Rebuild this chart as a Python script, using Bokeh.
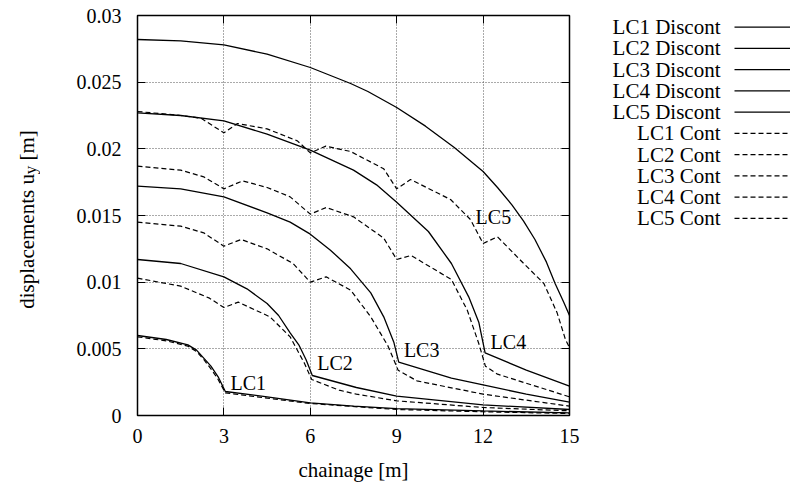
import math
from bokeh.plotting import figure
from bokeh.models import Range1d, LinearAxis, FixedTicker, CustomLabelingPolicy
from bokeh.layouts import row
from bokeh.core.properties import value
from bokeh.embed import file_html
from bokeh.resources import INLINE

FONT = "Liberation Serif"
FS = "20px"
FS_BIG = "21px"

# ---------------- data ----------------
x_ticks = [0, 3, 6, 9, 12, 15]
x_tick_labels = ["0", "3", "6", "9", "12", "15"]
y_ticks = [0, 0.005, 0.01, 0.015, 0.02, 0.025, 0.03]
y_tick_labels = ["0", "0.005", "0.01", "0.015", "0.02", "0.025", "0.03"]
x_title = "chainage [m]"
y_title_parts = ["displacements u", "y", "[m]"]

lc1_dis_x = [0, 1.0, 1.75, 2.05, 2.3, 2.55, 2.8, 3.05, 4.5, 6, 7.5, 9, 12, 15]
lc1_dis_y = [0.0060, 0.0057, 0.0053, 0.0049, 0.0043, 0.0037, 0.0029, 0.0018, 0.0014, 0.00095, 0.0007, 0.00052, 0.00034, 0.0002]

lc2_dis_x = [0, 1.5, 3, 3.8, 4.5, 4.9, 5.3, 5.6, 5.85, 6.07, 7.6, 9, 12, 15]
lc2_dis_y = [0.0117, 0.0114, 0.0104, 0.0095, 0.0084, 0.0075, 0.0062, 0.0053, 0.0042, 0.0030, 0.0021, 0.00145, 0.0008, 0.00045]

lc3_dis_x = [0, 1.5, 3, 4.5, 5.3, 6, 6.7, 7.4, 8.1, 8.55, 8.9, 9.07, 10.9, 12, 13.5, 15]
lc3_dis_y = [0.0172, 0.0170, 0.0164, 0.0152, 0.0145, 0.0136, 0.0124, 0.0110, 0.0092, 0.0074, 0.0055, 0.0040, 0.0028, 0.0023, 0.0016, 0.0010]

lc4_dis_x = [0, 1.5, 3, 4.5, 6, 7.5, 8.3, 9, 10.1, 10.9, 11.5, 11.85, 12.07, 13.5, 15]
lc4_dis_y = [0.0227, 0.0225, 0.0221, 0.0211, 0.0199, 0.0184, 0.0173, 0.0160, 0.0138, 0.0114, 0.0089, 0.0070, 0.0047, 0.0034, 0.0022]

lc5_dis_x = [0, 1.5, 3, 4.5, 6, 7.4, 8, 9, 10, 11, 12, 12.5, 13, 13.4, 13.8, 14.2, 14.5, 14.8, 15]
lc5_dis_y = [0.0282, 0.0281, 0.0278, 0.0271, 0.0261, 0.0249, 0.0243, 0.0231, 0.0217, 0.0201, 0.0183, 0.0171, 0.0158, 0.0146, 0.0132, 0.0115, 0.0099, 0.0085, 0.0075]

lc1_con_x = [0, 1.0, 1.75, 2.05, 2.3, 2.55, 2.8, 3.05, 4.5, 6, 9, 12, 15]
lc1_con_y = [0.0059, 0.0056, 0.0052, 0.0048, 0.0042, 0.0035, 0.0027, 0.0017, 0.0013, 0.0009, 0.00045, 0.00028, 0.00015]

lc2_con_x = [0, 1.5, 2.5, 3, 3.5, 4.6, 5.3, 5.8, 6.05, 7.0, 7.6, 9, 12, 15]
lc2_con_y = [0.0103, 0.0097, 0.0088, 0.0081, 0.0085, 0.0074, 0.0059, 0.0039, 0.0027, 0.0019, 0.0016, 0.0011, 0.0006, 0.00035]

lc3_con_x = [0, 1.5, 2.3, 3, 3.6, 4.5, 5.4, 6, 6.55, 7.4, 8.1, 8.7, 9.05, 9.7, 12, 15]
lc3_con_y = [0.0145, 0.0142, 0.0137, 0.0127, 0.0132, 0.0125, 0.0114, 0.0100, 0.0104, 0.0094, 0.0074, 0.0052, 0.0034, 0.0026, 0.0016, 0.0007]

lc4_con_x = [0, 1.5, 2.3, 3, 3.65, 4.5, 5.3, 6, 6.55, 7.5, 8.55, 9, 9.5, 10.9, 11.45, 11.85, 12.08, 12.5, 15]
lc4_con_y = [0.0187, 0.0184, 0.0179, 0.0170, 0.0176, 0.0171, 0.0164, 0.0151, 0.0156, 0.0149, 0.0133, 0.0117, 0.0120, 0.0102, 0.0079, 0.0054, 0.0037, 0.0031, 0.0014]

lc5_con_x = [0, 1.5, 2.2, 3, 3.47, 4.5, 5.55, 6, 6.54, 7.4, 8.55, 9, 9.48, 10.87, 11.56, 12, 12.5, 13.41, 14.11, 14.57, 14.86, 15]
lc5_con_y = [0.0228, 0.0225, 0.0223, 0.0212, 0.0219, 0.0215, 0.0206, 0.0197, 0.0202, 0.0198, 0.0185, 0.0170, 0.0177, 0.0162, 0.0147, 0.0129, 0.0134, 0.0114, 0.0099, 0.0077, 0.0057, 0.0051]

series_names = ["LC1 Discont", "LC2 Discont", "LC3 Discont", "LC4 Discont", "LC5 Discont",
                "LC1 Cont", "LC2 Cont", "LC3 Cont", "LC4 Cont", "LC5 Cont"]
series_x = [lc1_dis_x, lc2_dis_x, lc3_dis_x, lc4_dis_x, lc5_dis_x,
            lc1_con_x, lc2_con_x, lc3_con_x, lc4_con_x, lc5_con_x]
series_y = [lc1_dis_y, lc2_dis_y, lc3_dis_y, lc4_dis_y, lc5_dis_y,
            lc1_con_y, lc2_con_y, lc3_con_y, lc4_con_y, lc5_con_y]
series_dashed = [False] * 5 + [True] * 5

curve_label_text = ["LC1", "LC2", "LC3", "LC4", "LC5"]
curve_label_x = [3.23, 6.24, 9.25, 12.26, 11.74]
curve_label_y = [0.00243, 0.00396, 0.00494, 0.00553, 0.01492]

# ---------------- layout constants ----------------
H = 484
YL_W = 40          # y-title strip
FRAME_L, FRAME_R, FRAME_T, FRAME_B = 137, 569, 15, 416
MAIN_W = FRAME_R - YL_W + 14
LEG_W = 790 - YL_W - MAIN_W


def blank_panel(w):
    # row() aligns the frames of its plots, so the panel frame spans FRAME_T..FRAME_B;
    # a pixel-like range keeps positions in screen pixels
    f = figure(width=w, height=H, x_range=Range1d(0, w), y_range=Range1d(FRAME_B, FRAME_T),
               title=None, output_backend="svg", toolbar_location=None,
               x_axis_location=None, y_axis_location=None, min_border=0,
               background_fill_color="white", border_fill_color="white")
    f.outline_line_color = None
    f.xgrid.visible = False
    f.ygrid.visible = False
    return f


# ---------------- y title strip ----------------
yl = blank_panel(YL_W)
base_x, start_y = 26, 309
main_len = 6.416 * 21
yl.text(x=[base_x], y=[start_y], text=[y_title_parts[0]], angle=math.pi / 2,
        text_font=value(FONT), text_font_size=value(FS_BIG), text_color="black",
        text_align="left", text_baseline="alphabetic")
yl.text(x=[base_x + 4], y=[start_y - main_len], text=[y_title_parts[1]], angle=math.pi / 2,
        text_font=value(FONT), text_font_size=value("17px"), text_color="black",
        text_align="left", text_baseline="alphabetic")
yl.text(x=[base_x], y=[start_y - main_len - 8.5 - 5.3], text=[y_title_parts[2]], angle=math.pi / 2,
        text_font=value(FONT), text_font_size=value(FS_BIG), text_color="black",
        text_align="left", text_baseline="alphabetic")

# ---------------- main plot ----------------
p = figure(width=MAIN_W, height=H, x_range=Range1d(0, 15), y_range=Range1d(0, 0.03),
           title=None, output_backend="svg", toolbar_location=None,
           min_border_left=FRAME_L - YL_W, min_border_right=14,
           min_border_top=FRAME_T, min_border_bottom=H - FRAME_B,
           background_fill_color="white", border_fill_color="white")
p.outline_line_color = "black"
p.outline_line_width = 1.5

p.add_layout(LinearAxis(), "above")
p.add_layout(LinearAxis(), "right")

hide_all = CustomLabelingPolicy(code="for (const i of indices) { indices.unset(i) }\nreturn indices")


def style_axis(ax, ticks, labels, show):
    ax.ticker = FixedTicker(ticks=ticks)
    ax.major_tick_in = 8
    ax.major_tick_out = 0
    ax.minor_tick_line_color = None
    ax.axis_line_color = "black"
    ax.major_tick_line_color = "black"
    ax.major_tick_line_width = 1
    if show:
        ax.major_label_overrides = dict(zip(ticks, labels))
        ax.major_label_text_font = FONT
        ax.major_label_text_font_size = FS
        ax.major_label_text_color = "black"
    else:
        ax.major_label_text_font_size = "0px"
        ax.major_label_standoff = 0
        ax.major_label_policy = hide_all


for ax in p.below:
    style_axis(ax, x_ticks, x_tick_labels, True)
    ax.major_label_standoff = 13
    ax.axis_label = x_title
    ax.axis_label_text_font = FONT
    ax.axis_label_text_font_size = FS_BIG
    ax.axis_label_text_font_style = "normal"
    ax.axis_label_text_color = "black"
    ax.axis_label_standoff = 12
for ax in p.above:
    style_axis(ax, x_ticks, x_tick_labels, False)
for ax in p.left:
    style_axis(ax, y_ticks, y_tick_labels, True)
    ax.major_label_standoff = 16
for ax in p.right:
    style_axis(ax, y_ticks, y_tick_labels, False)

p.xgrid.ticker = FixedTicker(ticks=x_ticks)
p.ygrid.ticker = FixedTicker(ticks=y_ticks)
p.grid.grid_line_color = "#555555"
p.grid.grid_line_dash = "1 2"
p.grid.grid_line_width = 1

for xs, ys, dashed in zip(series_x, series_y, series_dashed):
    if dashed:
        p.line(xs, ys, line_color="black", line_width=1.2, line_dash="5 3")
    else:
        p.line(xs, ys, line_color="black", line_width=1.3)

p.text(x=curve_label_x, y=curve_label_y, text=curve_label_text,
       text_font=value(FONT), text_font_size=value(FS), text_color="black",
       text_align="left", text_baseline="middle")

# ---------------- legend panel ----------------
leg = blank_panel(LEG_W)
leg_left = YL_W + MAIN_W
text_right = 720 - leg_left
sample_left = 734 - leg_left
row0, row_step = 26.7, 21.3
rows_y = [row0 + i * row_step for i in range(len(series_names))]
leg.text(x=[text_right] * len(series_names), y=rows_y, text=series_names,
         text_font=value(FONT), text_font_size=value(FS_BIG), text_color="black",
         text_align="right", text_baseline="middle")
solid_y = [yy for yy, d in zip(rows_y, series_dashed) if not d]
dash_y = [yy for yy, d in zip(rows_y, series_dashed) if d]
leg.segment(x0=[sample_left] * len(solid_y), y0=solid_y, x1=[LEG_W] * len(solid_y), y1=solid_y,
            line_color="black", line_width=1.3)
leg.segment(x0=[sample_left] * len(dash_y), y0=dash_y, x1=[LEG_W] * len(dash_y), y1=dash_y,
            line_color="black", line_width=1.2, line_dash="5 3")

layout = row(yl, p, leg)
open("out.html", "w").write(file_html(layout, INLINE))
